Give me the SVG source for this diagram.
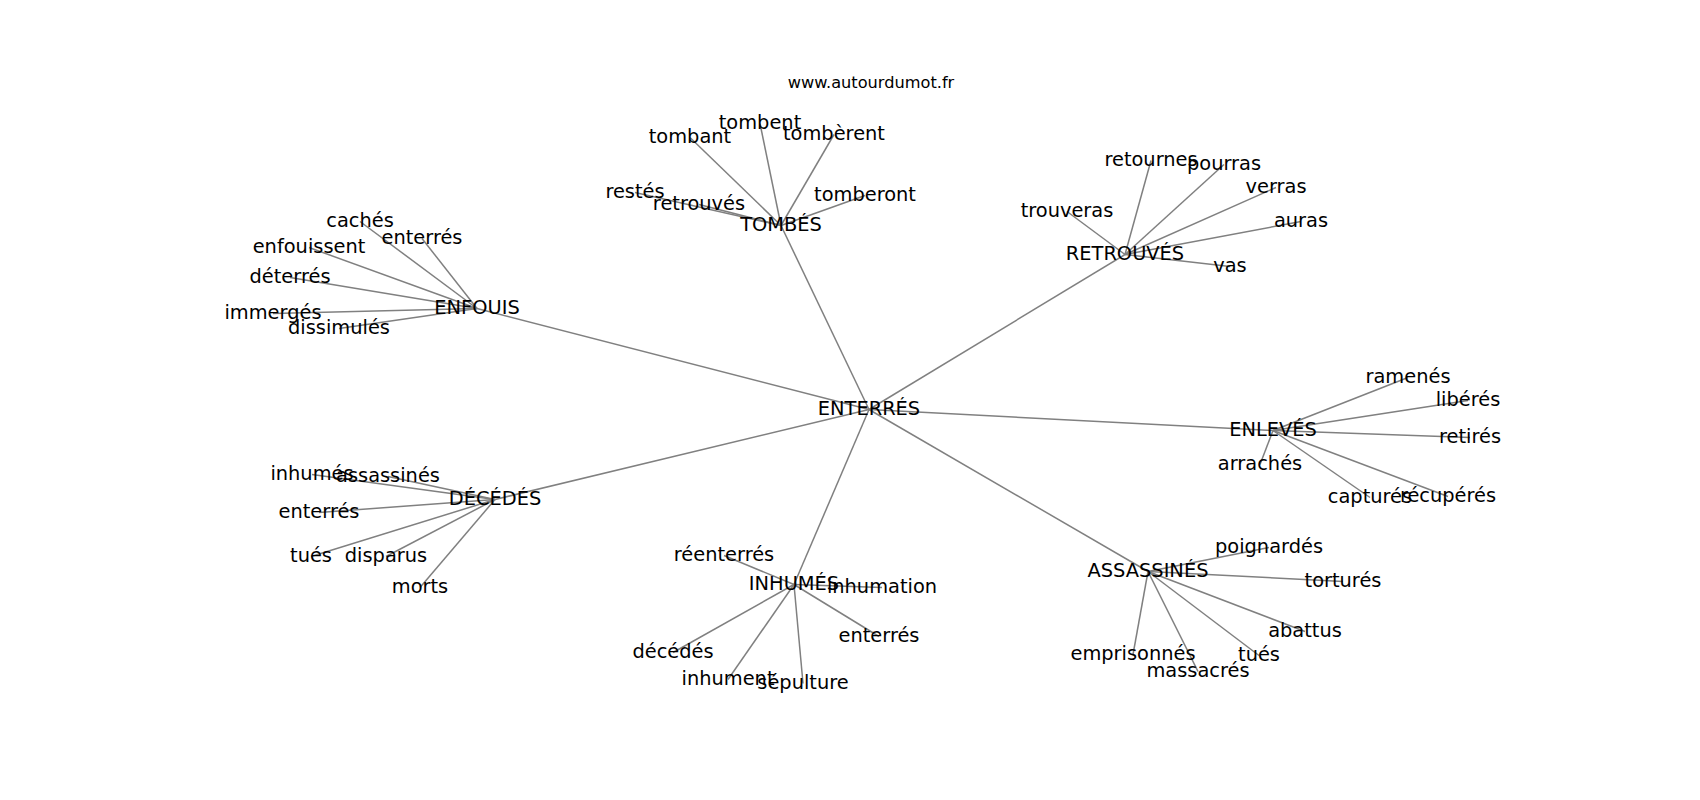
<svg xmlns="http://www.w3.org/2000/svg" width="1700" height="800" viewBox="0 0 1700 800">
<style>
  .bg { fill: #ffffff; }
  .edge { stroke: #808080; stroke-width: 1.5; fill: none; }
  .lbl { font-family: "DejaVu Sans", "Liberation Sans", sans-serif; font-size: 19.4px; fill: #000000; text-anchor: middle; }
  .title { font-family: "DejaVu Sans", "Liberation Sans", sans-serif; font-size: 16.2px; fill: #000000; text-anchor: middle; }
</style>
<rect class="bg" x="0" y="0" width="1700" height="800"/>
<text class="title" x="871" y="88">www.autourdumot.fr</text>
<g id="connectors">
  <!-- hub links -->
  <line class="edge" x1="869" y1="409.5" x2="781" y2="225.5"/>
  <line class="edge" x1="869" y1="409.5" x2="1125" y2="254.5"/>
  <line class="edge" x1="869" y1="409.5" x2="477" y2="308.5"/>
  <line class="edge" x1="869" y1="409.5" x2="1273" y2="430.5"/>
  <line class="edge" x1="869" y1="409.5" x2="495" y2="499.5"/>
  <line class="edge" x1="869" y1="409.5" x2="794" y2="584.5"/>
  <line class="edge" x1="869" y1="409.5" x2="1148" y2="571.5"/>
  <!-- TOMBÉS -->
  <line class="edge" x1="781" y1="225.5" x2="760" y2="123.5"/>
  <line class="edge" x1="781" y1="225.5" x2="690" y2="137.5"/>
  <line class="edge" x1="781" y1="225.5" x2="834" y2="134.5"/>
  <line class="edge" x1="781" y1="225.5" x2="635" y2="192.5"/>
  <line class="edge" x1="781" y1="225.5" x2="699" y2="204.5"/>
  <line class="edge" x1="781" y1="225.5" x2="865" y2="195.5"/>
  <!-- RETROUVÉS -->
  <line class="edge" x1="1125" y1="254.5" x2="1151" y2="160.5"/>
  <line class="edge" x1="1125" y1="254.5" x2="1224" y2="164.5"/>
  <line class="edge" x1="1125" y1="254.5" x2="1276" y2="187.5"/>
  <line class="edge" x1="1125" y1="254.5" x2="1067" y2="211.5"/>
  <line class="edge" x1="1125" y1="254.5" x2="1301" y2="221.5"/>
  <line class="edge" x1="1125" y1="254.5" x2="1230" y2="266.5"/>
  <!-- ENFOUIS -->
  <line class="edge" x1="477" y1="308.5" x2="360" y2="221.5"/>
  <line class="edge" x1="477" y1="308.5" x2="422" y2="238.5"/>
  <line class="edge" x1="477" y1="308.5" x2="309" y2="247.5"/>
  <line class="edge" x1="477" y1="308.5" x2="290" y2="277.5"/>
  <line class="edge" x1="477" y1="308.5" x2="273" y2="313.5"/>
  <line class="edge" x1="477" y1="308.5" x2="339" y2="328.5"/>
  <!-- ENLEVÉS -->
  <line class="edge" x1="1273" y1="430.5" x2="1408" y2="377.5"/>
  <line class="edge" x1="1273" y1="430.5" x2="1468" y2="400.5"/>
  <line class="edge" x1="1273" y1="430.5" x2="1470" y2="437.5"/>
  <line class="edge" x1="1273" y1="430.5" x2="1260" y2="464.5"/>
  <line class="edge" x1="1273" y1="430.5" x2="1370" y2="497.5"/>
  <line class="edge" x1="1273" y1="430.5" x2="1448" y2="496.5"/>
  <!-- DÉCÉDÉS -->
  <line class="edge" x1="495" y1="499.5" x2="312" y2="474.5"/>
  <line class="edge" x1="495" y1="499.5" x2="388" y2="476.5"/>
  <line class="edge" x1="495" y1="499.5" x2="319" y2="512.5"/>
  <line class="edge" x1="495" y1="499.5" x2="311" y2="556.5"/>
  <line class="edge" x1="495" y1="499.5" x2="386" y2="556.5"/>
  <line class="edge" x1="495" y1="499.5" x2="420" y2="587.5"/>
  <!-- INHUMÉS -->
  <line class="edge" x1="794" y1="584.5" x2="724" y2="555.5"/>
  <line class="edge" x1="794" y1="584.5" x2="882" y2="587.5"/>
  <line class="edge" x1="794" y1="584.5" x2="879" y2="636.5"/>
  <line class="edge" x1="794" y1="584.5" x2="673" y2="652.5"/>
  <line class="edge" x1="794" y1="584.5" x2="728" y2="679.5"/>
  <line class="edge" x1="794" y1="584.5" x2="803" y2="683.5"/>
  <!-- ASSASSINÉS -->
  <line class="edge" x1="1148" y1="571.5" x2="1269" y2="547.5"/>
  <line class="edge" x1="1148" y1="571.5" x2="1343" y2="581.5"/>
  <line class="edge" x1="1148" y1="571.5" x2="1305" y2="631.5"/>
  <line class="edge" x1="1148" y1="571.5" x2="1133" y2="654.5"/>
  <line class="edge" x1="1148" y1="571.5" x2="1259" y2="655.5"/>
  <line class="edge" x1="1148" y1="571.5" x2="1198" y2="671.5"/>
</g>
<g id="n-enterres"><text class="lbl" x="869" y="415">ENTERRÉS</text></g>
<g id="n-tombes"><text class="lbl" x="781" y="231">TOMBÉS</text></g>
<g id="n-retrouves"><text class="lbl" x="1125" y="260">RETROUVÉS</text></g>
<g id="n-enfouis"><text class="lbl" x="477" y="314">ENFOUIS</text></g>
<g id="n-enleves"><text class="lbl" x="1273" y="436">ENLEVÉS</text></g>
<g id="n-decedes"><text class="lbl" x="495" y="505">DÉCÉDÉS</text></g>
<g id="n-inhumes"><text class="lbl" x="794" y="590">INHUMÉS</text></g>
<g id="n-assassines"><text class="lbl" x="1148" y="577">ASSASSINÉS</text></g>

<g id="n-tombent"><text class="lbl" x="760" y="129">tombent</text></g>
<g id="n-tombant"><text class="lbl" x="690" y="143">tombant</text></g>
<g id="n-tomberent"><text class="lbl" x="834" y="140">tombèrent</text></g>
<g id="n-restes"><text class="lbl" x="635" y="198">restés</text></g>
<g id="n-retrouves2"><text class="lbl" x="699" y="210">retrouvés</text></g>
<g id="n-tomberont"><text class="lbl" x="865" y="201">tomberont</text></g>

<g id="n-retournes"><text class="lbl" x="1151" y="166">retournes</text></g>
<g id="n-pourras"><text class="lbl" x="1224" y="170">pourras</text></g>
<g id="n-verras"><text class="lbl" x="1276" y="193">verras</text></g>
<g id="n-trouveras"><text class="lbl" x="1067" y="217">trouveras</text></g>
<g id="n-auras"><text class="lbl" x="1301" y="227">auras</text></g>
<g id="n-vas"><text class="lbl" x="1230" y="272">vas</text></g>

<g id="n-caches"><text class="lbl" x="360" y="227">cachés</text></g>
<g id="n-enterres-1"><text class="lbl" x="422" y="244">enterrés</text></g>
<g id="n-enfouissent"><text class="lbl" x="309" y="253">enfouissent</text></g>
<g id="n-deterres"><text class="lbl" x="290" y="283">déterrés</text></g>
<g id="n-immerges"><text class="lbl" x="273" y="319">immergés</text></g>
<g id="n-dissimules"><text class="lbl" x="339" y="334">dissimulés</text></g>

<g id="n-ramenes"><text class="lbl" x="1408" y="383">ramenés</text></g>
<g id="n-liberes"><text class="lbl" x="1468" y="406">libérés</text></g>
<g id="n-retires"><text class="lbl" x="1470" y="443">retirés</text></g>
<g id="n-arraches"><text class="lbl" x="1260" y="470">arrachés</text></g>
<g id="n-captures"><text class="lbl" x="1370" y="503">capturés</text></g>
<g id="n-recuperes"><text class="lbl" x="1448" y="502">récupérés</text></g>

<g id="n-inhumes-2"><text class="lbl" x="312" y="480">inhumés</text></g>
<g id="n-assassines-2"><text class="lbl" x="388" y="482">assassinés</text></g>
<g id="n-enterres-2"><text class="lbl" x="319" y="518">enterrés</text></g>
<g id="n-tues-2"><text class="lbl" x="311" y="562">tués</text></g>
<g id="n-disparus"><text class="lbl" x="386" y="562">disparus</text></g>
<g id="n-morts"><text class="lbl" x="420" y="593">morts</text></g>

<g id="n-reenterres"><text class="lbl" x="724" y="561">réenterrés</text></g>
<g id="n-inhumation"><text class="lbl" x="882" y="593">inhumation</text></g>
<g id="n-enterres-3"><text class="lbl" x="879" y="642">enterrés</text></g>
<g id="n-decedes-3"><text class="lbl" x="673" y="658">décédés</text></g>
<g id="n-inhument"><text class="lbl" x="728" y="685">inhument</text></g>
<g id="n-sepulture"><text class="lbl" x="803" y="689">sépulture</text></g>

<g id="n-poignardes"><text class="lbl" x="1269" y="553">poignardés</text></g>
<g id="n-tortures"><text class="lbl" x="1343" y="587">torturés</text></g>
<g id="n-abattus"><text class="lbl" x="1305" y="637">abattus</text></g>
<g id="n-emprisonnes"><text class="lbl" x="1133" y="660">emprisonnés</text></g>
<g id="n-tues-4"><text class="lbl" x="1259" y="661">tués</text></g>
<g id="n-massacres"><text class="lbl" x="1198" y="677">massacrés</text></g>
</svg>
